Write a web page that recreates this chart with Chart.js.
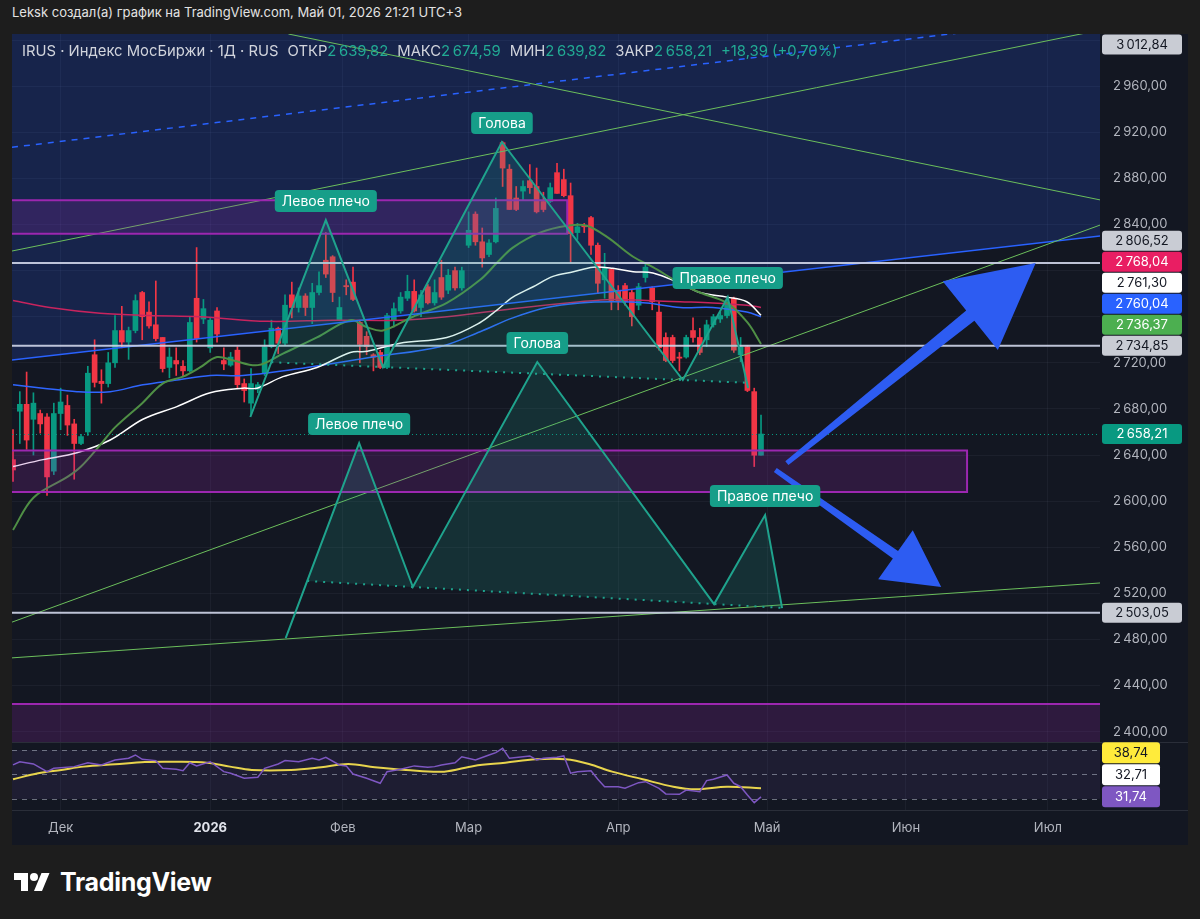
<!DOCTYPE html>
<html lang="ru">
<head>
<meta charset="utf-8">
<title>IRUS · Индекс МосБиржи</title>
<script src="https://cdn.jsdelivr.net/npm/chart.js@4.4.1/dist/chart.umd.min.js"></script>
<style>
  html, body { margin:0; padding:0; }
  body { width:1200px; height:919px; background:#1d1d1d; position:relative; overflow:hidden; font-family: Inter, "Noto Sans", "DejaVu Sans", sans-serif; }
  #title { position:absolute; left:12px; top:4px; font-size:13px; color:#e3e3e3; white-space:nowrap; }
  #panel { position:absolute; left:12px; top:34px; width:1176px; height:811px; background:#131722; }
  canvas { position:absolute; display:block; }
  #main { left:12px; top:34px; }
  #rsi { left:12px; top:742px; }
  #legend { position:absolute; left:22px; top:42px; font-size:14.8px; color:#d1d4dc; white-space:nowrap; }
  #legend .v { color:#22ab94; }
  #legend .g { margin-left:9px; }
  #logo { position:absolute; left:14px; top:868px; height:28px; display:flex; align-items:center; }
  #logo span { font-size:25px; font-weight:700; color:#ffffff; margin-left:10px; letter-spacing:-0.3px; }
</style>
</head>
<body>
<div id="title">Leksk создал(а) график на TradingView.com, Май 01, 2026 21:21 UTC+3</div>
<div id="panel"></div>
<canvas id="main" width="1176" height="708" style="width:1176px;height:708px"></canvas>
<canvas id="rsi" width="1176" height="103" style="width:1176px;height:103px"></canvas>
<div id="legend"></div>
<div id="logo">
  <svg width="36" height="20" viewBox="0 3 36 20"><g fill="#ffffff"><path d="M14 22H7V11H0V4h14v18zM28 22h-8l7.5-18h8L28 22z"/><circle cx="20" cy="8" r="4"/></g></svg>
  <span>TradingView</span>
</div>
<script>
// ---------------- DATA (bar index 0 = 20 Nov 2025, one bar per trading day) ----------------
const opens  = [2636,2678,2684,2671,2676,2673,2626,2676,2683,2667,2650,2660,2727,2704,2702,2720,2748,2738,2748,2781,
                2764,2753,2742,2716,2722,2717,2713,2776,2758,2733,2765,2722,2718,2731,2702,2685,2697,2711,2734,2750,
                2737,2779,2768,2778,2768,2781,2809,2812,2757,2787,2790,2755,2743,2727,2729,2716,2757,2765,2776,2782,
                2768,2786,2772,2794,2783,2800,2785,2822,2849,2825,2814,2825,2911,2888,2863,2869,2878,2873,2860,2860,
                2885,2879,2865,2833,2839,2846,2822,2792,2801,2783,2787,2781,2770,2794,2785,2764,2742,2742,2725,2725,
                2748,2742,2740,2753,2758,2761,2776,2727,2734,2695,2639.82];
const highs  = [2662,2695,2712,2694,2679,2676,2685,2698,2692,2671,2658,2717,2740,2714,2729,2761,2769,2751,2779,2782,
                2773,2791,2742,2733,2733,2722,2760,2820,2775,2759,2768,2733,2729,2734,2706,2715,2703,2740,2757,2751,
                2779,2790,2785,2780,2789,2799,2833,2813,2777,2792,2803,2757,2747,2728,2731,2763,2772,2781,2796,2792,
                2783,2788,2792,2809,2801,2803,2803,2851,2851,2837,2827,2863,2912,2892,2873,2878,2892,2889,2868,2876,
                2893,2888,2876,2841,2841,2847,2824,2815,2802,2787,2789,2783,2789,2807,2786,2773,2746,2744,2729,2744,
                2759,2750,2757,2762,2764,2776,2777,2742,2735,2698,2674.59];
const lows   = [2617,2650,2645,2640,2659,2605,2623,2662,2657,2619,2649,2657,2699,2685,2699,2716,2733,2723,2746,2740,
                2750,2739,2712,2707,2709,2708,2712,2738,2754,2729,2738,2714,2717,2698,2686,2675,2694,2709,2733,2728,
                2735,2759,2764,2761,2754,2779,2794,2773,2757,2779,2774,2720,2727,2713,2715,2715,2751,2763,2774,2764,
                2760,2771,2770,2775,2780,2783,2783,2820,2822,2803,2812,2824,2873,2853,2852,2861,2867,2850,2851,2859,
                2867,2864,2807,2827,2833,2814,2780,2776,2766,2766,2770,2752,2766,2790,2766,2731,2721,2720,2713,2724,
                2738,2727,2734,2751,2755,2759,2729,2721,2695,2630,2639.82];
const closes = [2627,2684,2653,2685,2667,2621,2676,2686,2666,2650,2656,2711,2703,2702,2720,2748,2738,2748,2774,2760,
                2752,2741,2715,2725,2719,2713,2755,2741,2767,2757,2745,2719,2725,2701,2696,2702,2701,2734,2750,2737,
                2770,2768,2778,2768,2781,2787,2797,2781,2768,2786,2775,2736,2734,2725,2716,2761,2767,2777,2782,2765,
                2779,2772,2781,2777,2796,2785,2800,2835,2825,2811,2824,2854,2889,2853,2853,2873,2872,2851,2853,2872,
                2867,2865,2832,2838,2838,2822,2789,2802,2774,2774,2773,2760,2786,2803,2773,2733,2722,2722,2724,2742,
                2742,2729,2753,2760,2761,2772,2731,2734,2696,2639.82,2658.21];

// moving averages, read as [bar index, value]
const maGreen = [[0,2575],[3,2603],[8,2621],[10,2630],[13,2650],[15,2664],[19,2685],[22,2702],[25,2708],[27.5,2716],
                 [30,2725],[32.4,2722],[36,2718],[39.7,2728],[44.7,2742],[49.6,2757],[52,2751],[54.4,2748],[58.8,2760],
                 [63.8,2772],[68.7,2792],[71.2,2807],[73.5,2820],[77.5,2833],[81.5,2839],[84.4,2839],[87.4,2829],
                 [91.2,2812],[94.1,2803],[98.1,2789],[101,2781],[105,2772],[108,2755],[110,2736.37]];
const maWhite = [[0,2630],[4.4,2636],[9.4,2642],[14.3,2653],[19.1,2671],[24.1,2682],[29,2694],[33.8,2698],[35.9,2698],
                 [39.7,2708],[44.7,2716],[49.6,2729],[52.1,2730],[56.9,2737],[63.8,2742],[68.7,2755],[71.2,2766],
                 [73.5,2777],[76.5,2786],[79.4,2795],[82.4,2799],[85.3,2803],[88.2,2802],[91.2,2799],[94.1,2798],
                 [98.1,2789],[101,2781],[105,2777],[107.9,2773],[110,2761.30]];
const maBlue  = [[0,2701],[4.4,2698],[9.4,2695],[14.3,2695],[19.1,2701],[24.1,2705],[29,2709],[33.8,2709],[43.2,2716],
                 [52.9,2725],[62.8,2734],[68.7,2747],[73.5,2759],[78.5,2768],[83.4,2772],[88.2,2773],[93.2,2772],
                 [98.1,2768],[102.9,2768],[107.9,2764],[110,2760.04]];
const maPink  = [[0,2774],[5.4,2768],[12.8,2763],[20.1,2761],[27.5,2760],[37.4,2756],[47,2757],[56.9,2757],[63.8,2760],
                 [73.5,2767],[83.4,2773],[88.2,2775],[93.2,2774],[98.1,2773],[102.9,2772],[107.9,2770],[110,2768.04]];

// time axis
const monthTickIdx = [7, 29, 48.5, 67, 89, 110.9, 131.3, 152.2];
const monthLabels  = ['Дек', '2026', 'Фев', 'Мар', 'Апр', 'Май', 'Июн', 'Июл'];

// horizontal levels and extra axis label
const hLevels = [2806.52, 2734.85, 2503.05];
const topLevelLabel = 3012.84;

// trend lines: [index1, price1, index2, price2]
const trendBlueMid     = [-0.15, 2907, 138.8, 3006];
const trendBlueLow     = [-0.15, 2722.4, 159.9, 2830];
const trendGreenUp     = [-0.15, 2817, 157.6, 3006];
const trendGreenDown   = [40.5, 3005.3, 159.9, 2861.3];
const trendGreenLow    = [-0.15, 2495, 159.9, 2839.6];
const trendGreenBottom = [-0.15, 2464, 159.9, 2529];

// zones: [index start, index end, price top, price bottom]
const zones = [[-2, 81.5, 2861, 2832], [-2, 140.3, 2644, 2608], [-2, 162, 2424, 2300]];

// head & shoulders patterns: start, left shoulder, neck 1, head, neck 2, right shoulder, end
const hsUpper = [[34.9,2673],[46,2843.9],[54.4,2716.3],[71.9,2911.6],[98.5,2705.1],[105.1,2777.1],[108.1,2698.1]];
const hsLower = [[40.1,2481.2],[50.9,2650.4],[58.8,2525.5],[77.1,2720.7],[103.1,2510.7],[110.6,2587.9],[113.1,2507.2]];
const hsLabels = ['Левое плечо', 'Голова', 'Правое плечо'];

// arrows: [tail index, tail price, tip index, tip price]
const arrowUp   = [113.8, 2633, 150.4, 2806.6];
const arrowDown = [112.1, 2627, 136.5, 2525.5];

// RSI pane
const rsiLine = [[0,57.8],[1,60.4],[3,58.6],[5,52.3],[6,55],[9,56.4],[11,59.6],[13,57.8],[15,61.8],[17,63.2],[18,65.9],
                 [19,62.4],[21,61.3],[22,55],[24,54.2],[25,53.1],[26,59.6],[27,57],[29,60.4],[31,52.3],[32,51],[34,46.9],
                 [36,47.7],[37,55],[39,58.6],[40,61.3],[42,60.4],[44,63.2],[45,61.8],[46,64],[48,57.8],[49,57],[50,50.4],
                 [52,46.9],[54,42.8],[55,52.3],[57,54.2],[59,57],[61,55.9],[62,56.4],[63,57.8],[65,59.6],[66,64.5],
                 [68,61.8],[70,65.9],[71,67.8],[72,71.4],[73,63.2],[75,64.5],[76,65.1],[77,61.8],[78,63.2],[80,64],
                 [81,65.1],[82,51],[83,52.3],[85,53.1],[86,46.1],[87,40],[89,40],[90,38.7],[92,43.3],[93,44.1],[95,38.7],
                 [96,34.1],[98,33.8],[99,37.3],[101,36],[102,45],[103,46.1],[105,49.6],[106,42.8],[107,40],[108,33.3],
                 [109,27],[110,31.74]];
const rsiMa = [[0,46.1],[3.7,51],[7.1,53.7],[10.4,56.4],[15,58.3],[19.4,60.2],[24,60.4],[28.5,59.6],[31.9,56.4],[35.1,53.7],
               [40.9,53.7],[45.3,55.9],[49.3,58.6],[53.2,55.9],[57.8,53.7],[63.4,52.3],[67.8,57],[72.4,59.6],[76.9,62.4],
               [81.3,62.4],[84.7,58.6],[88.1,52.3],[92.6,46.1],[97.1,40],[100.4,37.9],[105,40],[110,38.74]];
const rsiLevels = [70, 50, 30];
const rsiExtraLabel = 32.71;

// ---------------- RENDERING ----------------
const FONT = 'Inter, "Noto Sans", sans-serif';
Chart.defaults.font.family = FONT;
const N = opens.length;
const bars = opens.map((_, i) => i);
const UP = '#089981', DOWN = '#f23645';
const colorOf = i => closes[i] >= opens[i] ? UP : DOWN;
const pts = arr => arr.map(([i, v]) => ({x: i, y: v}));
const seg = l => [{x: l[0], y: l[1]}, {x: l[2], y: l[3]}];
const lineAt = (l, i) => l[1] + (l[3] - l[1]) * (i - l[0]) / (l[2] - l[0]);
const lastOf = a => a[a.length - 1][1];
const X_MIN = -0.15, X_MAX = 159.85;

function fmt(v, sep = '\u2009') {
  const [a, b] = v.toFixed(2).split('.');
  return a.replace(/\B(?=(\d{3})+(?!\d))/g, sep) + ',' + b;
}

// legend line
(function () {
  const o = opens[N - 1], h = highs[N - 1], l = lows[N - 1], c = closes[N - 1];
  const ch = c - closes[N - 2], pct = ch / closes[N - 2] * 100;
  const sgn = ch >= 0 ? '+' : '−';
  document.getElementById('legend').innerHTML =
    'IRUS · Индекс МосБиржи · 1Д · RUS' +
    '<span class="g">ОТКР</span><span class="v">' + fmt(o) + '</span>' +
    '<span class="g">МАКС</span><span class="v">' + fmt(h) + '</span>' +
    '<span class="g">МИН</span><span class="v">' + fmt(l) + '</span>' +
    '<span class="g">ЗАКР</span><span class="v">' + fmt(c) + '</span>' +
    '<span class="g v">' + sgn + fmt(Math.abs(ch)) + ' (' + sgn + fmt(Math.abs(pct)) + '%)</span>';
})();

function rr(ctx, x, y, w, h, r) {
  ctx.beginPath();
  ctx.moveTo(x + r, y); ctx.lineTo(x + w - r, y); ctx.quadraticCurveTo(x + w, y, x + w, y + r);
  ctx.lineTo(x + w, y + h - r); ctx.quadraticCurveTo(x + w, y + h, x + w - r, y + h);
  ctx.lineTo(x + r, y + h); ctx.quadraticCurveTo(x, y + h, x, y + h - r);
  ctx.lineTo(x, y + r); ctx.quadraticCurveTo(x, y, x + r, y); ctx.closePath();
}

function stackBadges(chart, specs, h) {
  const a = chart.chartArea, y = chart.scales.y;
  const items = specs.map(s => ({...s, py: Math.min(Math.max(y.getPixelForValue(s.v), a.top + h / 2), a.bottom - h / 2)}));
  items.sort((p, q) => q.py - p.py);
  for (let k = 1; k < items.length; k++) items[k].py = Math.min(items[k].py, items[k - 1].py - h);
  return items;
}

function drawBadges(ctx, chart, items, w, h, decSep) {
  const a = chart.chartArea;
  ctx.save();
  ctx.font = '13px ' + FONT; ctx.textAlign = 'center'; ctx.textBaseline = 'middle';
  const x0 = a.right + 2;
  items.forEach(it => {
    rr(ctx, x0, it.py - h / 2 + 0.5, w, h - 1, 3);
    ctx.fillStyle = it.bg; ctx.fill();
    ctx.fillStyle = it.fg; ctx.fillText(fmt(it.v, decSep), x0 + w / 2, it.py + 0.5);
  });
  ctx.restore();
}

function drawTag(ctx, text, cx, cy) {
  ctx.font = '14px ' + FONT;
  const w = ctx.measureText(text).width + 14, h = 22;
  rr(ctx, cx - w / 2, cy - h / 2, w, h, 4);
  ctx.fillStyle = '#169e89'; ctx.fill();
  ctx.fillStyle = '#ffffff'; ctx.textAlign = 'center'; ctx.textBaseline = 'middle';
  ctx.fillText(text, cx, cy + 0.5);
}

function drawHS(ctx, x, y, pattern) {
  const P = pattern.map(([i, p]) => ({x: x.getPixelForValue(i), y: y.getPixelForValue(p)}));
  const [A, B, C, D, E, F, G] = P;
  const m = (E.y - C.y) / (E.x - C.x);
  const cut = (S, T) => {
    const t = (C.y + m * (S.x - C.x) - S.y) / ((T.y - S.y) - m * (T.x - S.x));
    return {x: S.x + t * (T.x - S.x), y: S.y + t * (T.y - S.y)};
  };
  const L = cut(A, B), R = cut(F, G);
  ctx.beginPath();
  [L, B, C, D, E, F, R].forEach((p, k) => k ? ctx.lineTo(p.x, p.y) : ctx.moveTo(p.x, p.y));
  ctx.closePath();
  ctx.fillStyle = 'rgba(34,171,148,0.17)'; ctx.fill();
  ctx.save();
  ctx.setLineDash([2, 6]); ctx.lineWidth = 2; ctx.strokeStyle = '#1fa38d';
  ctx.beginPath(); ctx.moveTo(L.x, L.y); ctx.lineTo(R.x, R.y); ctx.stroke();
  ctx.restore();
  ctx.beginPath();
  P.forEach((p, k) => k ? ctx.lineTo(p.x, p.y) : ctx.moveTo(p.x, p.y));
  ctx.lineWidth = 2; ctx.strokeStyle = '#1fa38d'; ctx.lineJoin = 'miter'; ctx.stroke();
  return [B, D, F];
}

function drawArrow(ctx, x, y, a, L, H, wT, wB) {
  const t = {x: x.getPixelForValue(a[0]), y: y.getPixelForValue(a[1])};
  const h = {x: x.getPixelForValue(a[2]), y: y.getPixelForValue(a[3])};
  const dx = h.x - t.x, dy = h.y - t.y, len = Math.hypot(dx, dy);
  const ux = dx / len, uy = dy / len, nx = -uy, ny = ux;
  const bx = h.x - ux * L, by = h.y - uy * L;
  const poly = [
    [t.x + nx * wT / 2, t.y + ny * wT / 2], [bx + nx * wB / 2, by + ny * wB / 2], [bx + nx * H, by + ny * H],
    [h.x, h.y],
    [bx - nx * H, by - ny * H], [bx - nx * wB / 2, by - ny * wB / 2], [t.x - nx * wT / 2, t.y - ny * wT / 2]
  ];
  ctx.beginPath();
  poly.forEach((p, k) => k ? ctx.lineTo(p[0], p[1]) : ctx.moveTo(p[0], p[1]));
  ctx.closePath();
  ctx.fillStyle = '#2d5cf2'; ctx.fill();
}

const mainDraw = {
  id: 'mainDraw',
  beforeDatasetsDraw(chart) {
    const {ctx, chartArea: a, scales: {x, y}} = chart;
    ctx.save();
    ctx.beginPath(); ctx.rect(a.left, a.top, a.width, a.height); ctx.clip();
    const lo = i => lineAt(trendBlueLow, i), hi = i => 2 * lineAt(trendBlueMid, i) - lineAt(trendBlueLow, i);
    ctx.beginPath();
    ctx.moveTo(x.getPixelForValue(X_MIN - 1), y.getPixelForValue(lo(X_MIN - 1)));
    ctx.lineTo(x.getPixelForValue(X_MAX + 1), y.getPixelForValue(lo(X_MAX + 1)));
    ctx.lineTo(x.getPixelForValue(X_MAX + 1), y.getPixelForValue(hi(X_MAX + 1)));
    ctx.lineTo(x.getPixelForValue(X_MIN - 1), y.getPixelForValue(hi(X_MIN - 1)));
    ctx.closePath();
    ctx.fillStyle = 'rgba(41,98,255,0.19)'; ctx.fill();
    ctx.restore();
  },
  afterDatasetsDraw(chart) {
    const {ctx, chartArea: a, scales: {x, y}} = chart;
    ctx.save();
    ctx.beginPath(); ctx.rect(a.left, a.top, a.width, a.height); ctx.clip();
    zones.forEach(([i0, i1, pT, pB]) => {
      const x0 = x.getPixelForValue(i0), x1 = x.getPixelForValue(i1);
      const y0 = y.getPixelForValue(pT), y1 = y.getPixelForValue(pB);
      ctx.fillStyle = 'rgba(156,39,176,0.2)'; ctx.fillRect(x0, y0, x1 - x0, y1 - y0);
      ctx.strokeStyle = '#9c27b0'; ctx.lineWidth = 2;
      ctx.beginPath(); ctx.moveTo(x0, y0); ctx.lineTo(x1, y0); ctx.lineTo(x1, y1); ctx.lineTo(x0, y1); ctx.stroke();
    });
    const py = Math.round(y.getPixelForValue(closes[N - 1])) + 0.5;
    ctx.save(); ctx.setLineDash([1, 3]); ctx.strokeStyle = UP; ctx.lineWidth = 1;
    ctx.beginPath(); ctx.moveTo(a.left, py); ctx.lineTo(a.right, py); ctx.stroke(); ctx.restore();
    const pu = drawHS(ctx, x, y, hsUpper);
    const pl = drawHS(ctx, x, y, hsLower);
    drawArrow(ctx, x, y, arrowUp, 84, 44, 5, 13);
    drawArrow(ctx, x, y, arrowDown, 56, 30, 5, 9);
    [pu, pl].forEach(ps => ps.forEach((p, k) => drawTag(ctx, hsLabels[k], p.x, p.y - 19)));
    ctx.restore();
  },
  afterDraw(chart) {
    const {ctx, chartArea: a, scales: {y}} = chart;
    const gray = {bg: '#c9ccd4', fg: '#131722'};
    const specs = [
      {v: topLevelLabel, ...gray},
      {v: hLevels[0], ...gray},
      {v: lastOf(maPink), bg: '#e91e63', fg: '#ffffff'},
      {v: lastOf(maWhite), bg: '#ffffff', fg: '#131722'},
      {v: lastOf(maBlue), bg: '#2962ff', fg: '#ffffff'},
      {v: lastOf(maGreen), bg: '#4caf50', fg: '#ffffff'},
      {v: hLevels[1], ...gray},
      {v: closes[N - 1], bg: '#089981', fg: '#ffffff'},
      {v: hLevels[2], ...gray}
    ];
    const placed = stackBadges(chart, specs, 21);
    ctx.save();
    ctx.font = '13px ' + FONT; ctx.fillStyle = '#b2b5be'; ctx.textAlign = 'left'; ctx.textBaseline = 'middle';
    y.ticks.forEach(t => {
      if (Math.abs(t.value % 40) > 0.001) return;
      const ty = y.getPixelForValue(t.value);
      if (ty < a.top + 6 || ty > a.bottom - 4) return;
      if (placed.some(b => Math.abs(b.py - ty) < 13)) return;
      ctx.fillText(fmt(t.value), a.right + 13, ty);
    });
    ctx.restore();
    drawBadges(ctx, chart, placed, 80, 21, '\u2009');
  }
};

const xCommon = (showTicks) => ({
  type: 'linear', min: X_MIN, max: X_MAX, offset: false,
  afterBuildTicks(s) { s.ticks = monthTickIdx.map(v => ({value: v})); },
  grid: {color: 'rgba(120,128,160,0.09)', drawTicks: false, offset: false},
  border: {display: false},
  ticks: showTicks ? {
    display: true, autoSkip: false, maxRotation: 0, padding: 10,
    callback: (v, i) => monthLabels[i],
    color: c => (c.tick && c.tick.label === '2026') ? '#e0e3eb' : '#b2b5be',
    font: c => ({family: FONT, size: 13, weight: (c.tick && c.tick.label === '2026') ? '700' : '400'})
  } : {display: false},
  afterFit(s) { s.height = showTicks ? 35 : 0; }
});

const lineDs = (data, color, width, order, extra = {}) => Object.assign({
  type: 'line', data, borderColor: color, borderWidth: width, pointRadius: 0, tension: 0, order, fill: false
}, extra);

new Chart(document.getElementById('main'), {
  type: 'bar',
  data: {
    datasets: [
      {type: 'bar', data: bars.map(i => ({x: i, y: [lows[i], highs[i]]})), backgroundColor: bars.map(colorOf),
       barThickness: 1, grouped: false, order: 30},
      {type: 'bar', data: bars.map(i => ({x: i, y: [Math.min(opens[i], closes[i]), Math.max(opens[i], closes[i])]})),
       backgroundColor: bars.map(colorOf), barThickness: 5, minBarLength: 1, grouped: false, order: 29},
      lineDs(pts(maPink), '#c8245e', 1.5, 24, {tension: 0.35}),
      lineDs(pts(maBlue), '#2f66ff', 1.5, 23, {tension: 0.35}),
      lineDs(pts(maWhite), '#ffffff', 1.5, 22, {tension: 0.35}),
      lineDs(pts(maGreen), '#4f8f45', 2, 21, {tension: 0.35}),
      lineDs(seg(trendBlueLow), '#2962ff', 1.5, 9),
      lineDs(seg(trendBlueMid), '#2962ff', 1.5, 9, {borderDash: [6, 6]}),
      lineDs(seg(trendGreenUp), '#6cbf5c', 1, 8),
      lineDs(seg(trendGreenDown), '#6cbf5c', 1, 8),
      lineDs(seg(trendGreenLow), '#6cbf5c', 1, 8),
      lineDs(seg(trendGreenBottom), '#6cbf5c', 1, 8),
      ...hLevels.map(v => lineDs([{x: X_MIN - 1, y: v}, {x: X_MAX + 1, y: v}], 'rgba(205,210,230,0.92)', 2, 5))
    ]
  },
  options: {
    responsive: false, animation: false, devicePixelRatio: 1, events: [],
    layout: {padding: 0},
    plugins: {legend: {display: false}, tooltip: {enabled: false}},
    scales: {
      x: xCommon(false),
      y: {
        type: 'linear', position: 'right', min: 2391, max: 3005.3,
        ticks: {display: false, stepSize: 40, includeBounds: false},
        grid: {color: 'rgba(120,128,160,0.09)', drawTicks: false},
        border: {display: false},
        afterFit(s) { s.width = 88; }
      }
    }
  },
  plugins: [mainDraw]
});

const rsiDraw = {
  id: 'rsiDraw',
  beforeDatasetsDraw(chart) {
    const {ctx, chartArea: a, scales: {y}} = chart;
    ctx.save();
    const yT = y.getPixelForValue(rsiLevels[0]), yB = y.getPixelForValue(rsiLevels[2]);
    ctx.fillStyle = 'rgba(126,87,194,0.10)'; ctx.fillRect(a.left, yT, a.width, yB - yT);
    ctx.setLineDash([5, 5]); ctx.strokeStyle = 'rgba(180,184,200,0.55)'; ctx.lineWidth = 1;
    rsiLevels.forEach(v => {
      const py = Math.round(y.getPixelForValue(v)) + 0.5;
      ctx.beginPath(); ctx.moveTo(a.left, py); ctx.lineTo(a.right, py); ctx.stroke();
    });
    ctx.setLineDash([]);
    ctx.strokeStyle = '#2a2e39';
    ctx.beginPath(); ctx.moveTo(0, 0.5); ctx.lineTo(chart.width, 0.5); ctx.stroke();
    ctx.beginPath(); ctx.moveTo(0, a.bottom + 0.5); ctx.lineTo(chart.width, a.bottom + 0.5); ctx.stroke();
    ctx.restore();
  },
  afterDraw(chart) {
    const items = stackBadges(chart, [
      {v: lastOf(rsiMa), bg: '#ffeb3b', fg: '#131722'},
      {v: rsiExtraLabel, bg: '#ffffff', fg: '#131722'},
      {v: lastOf(rsiLine), bg: '#7e57c2', fg: '#ffffff'}
    ], 22);
    drawBadges(chart.ctx, chart, items, 58, 22, '');
  }
};

new Chart(document.getElementById('rsi'), {
  type: 'line',
  data: {
    datasets: [
      lineDs(pts(rsiMa), '#e8d44d', 2, 2, {tension: 0.35}),
      lineDs(pts(rsiLine), '#7e57c2', 1.5, 1)
    ]
  },
  options: {
    responsive: false, animation: false, devicePixelRatio: 1, events: [],
    layout: {padding: 0},
    plugins: {legend: {display: false}, tooltip: {enabled: false}},
    scales: {
      x: xCommon(true),
      y: {
        type: 'linear', position: 'right', min: 21, max: 76.5,
        ticks: {display: false}, grid: {display: false}, border: {display: false},
        afterFit(s) { s.width = 88; }
      }
    }
  },
  plugins: [rsiDraw]
});
</script>
</body>
</html>
